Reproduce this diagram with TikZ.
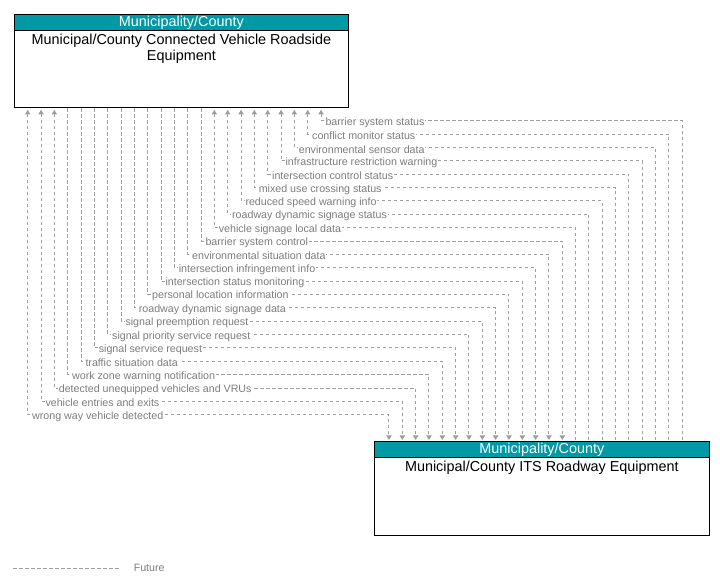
\documentclass[tikz,border=0pt]{standalone}
\usepackage{fontspec}
\setmainfont{Liberation Sans}
\usetikzlibrary{arrows.meta,calc}
\definecolor{hdrteal}{RGB}{0,153,166}
\definecolor{flowc}{RGB}{158,158,158}
\definecolor{lblc}{RGB}{125,125,125}
\begin{document}
\begin{tikzpicture}[x=0.75pt,y=-0.75pt,
  ftip/.tip={Triangle[width=4pt,length=3.4pt]},
  box/.style={draw=black,line width=0.8pt,fill=white,rectangle,inner sep=0pt,anchor=north west},
  hdr/.style={draw=black,line width=0.8pt,fill=hdrteal,rectangle,inner sep=0pt,anchor=north west,
    minimum height=12pt,text=white,font=\fontsize{10.8}{12}\selectfont},
  ttl/.style={anchor=north,inner sep=0pt,align=center,text=black,font=\fontsize{10.8}{11.8}\selectfont},
  flow/.style={draw=flowc,line width=0.75pt,dash pattern=on 2.4pt off 2.1pt},
  lbl/.style={anchor=west,xshift=2.4pt,yshift=-1.3pt,fill=white,inner sep=0.6pt,text=lblc,font=\fontsize{8}{9.6}\selectfont},
  fup/.style={ftip-,shorten <=1.1pt},
  fdown/.style={-ftip,shorten >=1pt},
  fboth/.style={ftip-ftip,shorten <=1.1pt,shorten >=1pt}]
\useasboundingbox (0,0) rectangle (720,588);

% top box
\node[box,minimum width=250.3pt,minimum height=70pt] (rse) at (14,14) {};
\node[hdr,minimum width=250.3pt] (rseh) at (rse.north west) {Municipality/County};
\node[ttl] (rset) at ([yshift=-2.1pt]rseh.south) {Municipal/County Connected Vehicle Roadside\\Equipment};

% bottom box
\node[box,minimum width=251pt,minimum height=70pt] (its) at (374,441.3) {};
\node[hdr,minimum width=251pt] (itsh) at (its.north west) {Municipality/County};
\node[ttl] (itst) at ([yshift=-2.0pt]itsh.south) {Municipal/County ITS Roadway Equipment};

% flows
\foreach \i/\t/\s in {
 1/barrier system status/fup,
 2/conflict monitor status/fup,
 3/environmental sensor data/fup,
 4/infrastructure restriction warning/fup,
 5/intersection control status/fup,
 6/mixed use crossing status/fup,
 7/reduced speed warning info/fup,
 8/roadway dynamic signage status/fup,
 9/vehicle signage local data/fup,
 10/barrier system control/fdown,
 11/environmental situation data/fdown,
 12/intersection infringement info/fdown,
 13/intersection status monitoring/fdown,
 14/personal location information/fdown,
 15/roadway dynamic signage data/fdown,
 16/signal preemption request/fdown,
 17/signal priority service request/fdown,
 18/signal service request/fdown,
 19/traffic situation data/fdown,
 20/work zone warning notification/fdown,
 21/detected unequipped vehicles and VRUs/fboth,
 22/vehicle entries and exits/fboth,
 23/wrong way vehicle detected/fboth}{
  \pgfmathsetmacro{\xt}{321-(\i-1)*13.333}
  \pgfmathsetmacro{\xb}{682.3-(\i-1)*13.333}
  \pgfmathsetmacro{\yy}{120.8+(\i-1)*13.36}
  \draw[flow,\s] (rse.south -| \xt,0) -- (\xt,\yy) node[lbl] {\t} -- (\xb,\yy) -- (its.north -| \xb,0);
}

% legend
\coordinate (lga) at (13.3,568);
\coordinate (lgb) at (120,568);
\draw[flow] (lga) -- (lgb);
\node[anchor=west,inner sep=0pt,text=lblc,font=\fontsize{8}{9.6}\selectfont] (lgt) at (133.5,568) {Future};
\end{tikzpicture}
\end{document}
